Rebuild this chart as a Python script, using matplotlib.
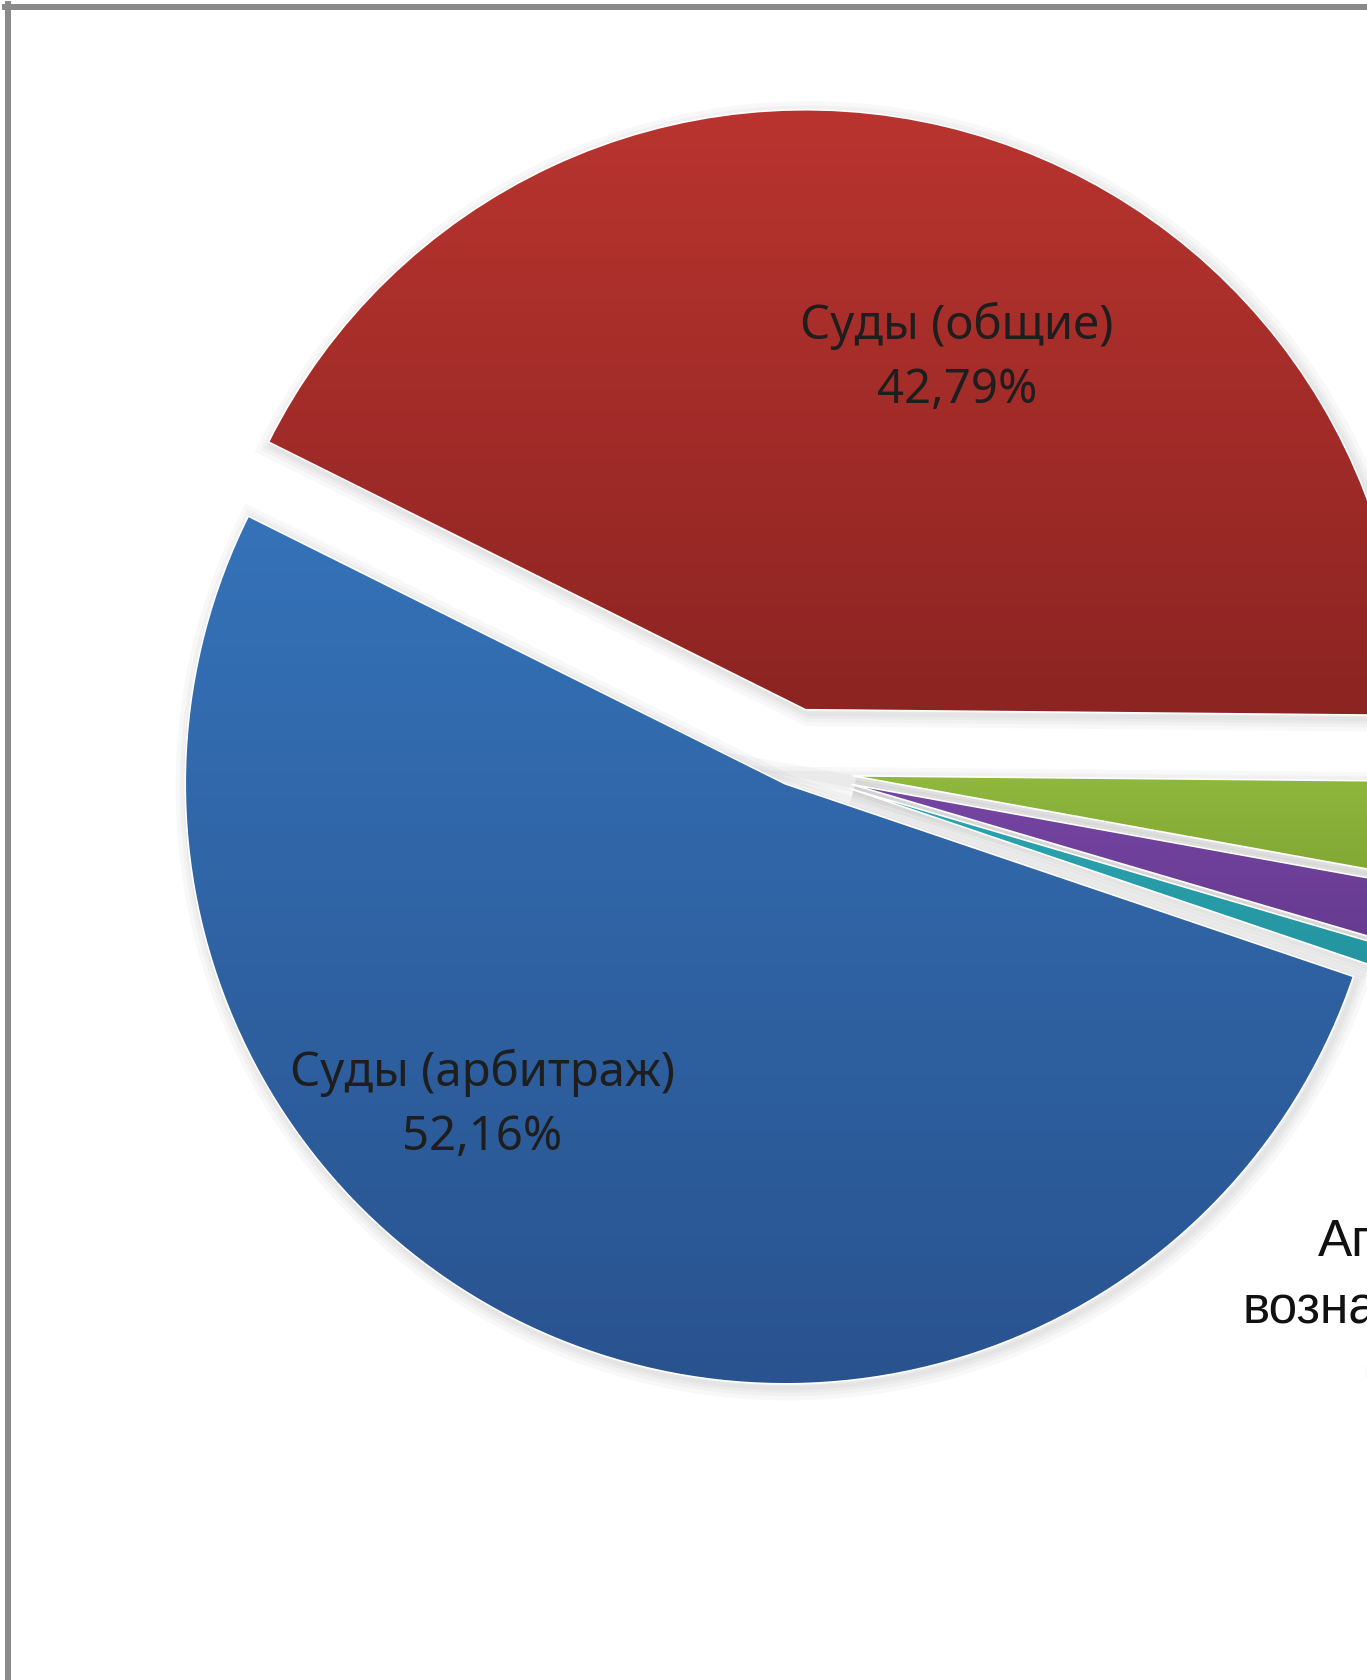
import numpy as np
import matplotlib.pyplot as plt
from matplotlib.colors import LinearSegmentedColormap
from matplotlib.lines import Line2D
from matplotlib.patches import Wedge

# Shares of the pie, clockwise starting from the red slice
labels = ['Суды (общие)', '', '', 'Агентское\nвознаграждение', 'Суды (арбитраж)']
shares = [42.79, 2.70, 1.70, 0.65, 52.16]
# gradient colours (top, bottom) for each slice
top_colors = ['#b9342f', '#8fb83e', '#7645a3', '#2ba6b2', '#3572b8']
bottom_colors = ['#8c2422', '#7fa632', '#653a8e', '#23939e', '#29538f']
explode = [62, 62, 62, 62, 15]

W, H = 1367, 1681
fig = plt.figure(figsize=(W / 100, H / 100), dpi=100)
ax = fig.add_axes([0, 0, 1, 1])

wedges, _ = ax.pie(shares, explode=explode, startangle=153.5, counterclock=False,
                   radius=600, center=(791, H - 771),
                   wedgeprops=dict(edgecolor='white', linewidth=1.2))

# soft shadow under the slices (a few faint, growing copies)
for w in wedges:
    cx, cy = w.center
    for lw in (18, 12, 7, 3):
        ax.add_patch(Wedge((cx + 3, cy - 4), w.r, w.theta1, w.theta2,
                           facecolor='none', edgecolor='#7a7a7a', linewidth=lw,
                           alpha=0.05, zorder=0.5))

# vertical gradient fill inside every wedge
grad = np.linspace(0, 1, 256).reshape(-1, 1)
for w, c_top, c_bot in zip(wedges, top_colors, bottom_colors):
    w.set_zorder(2)
    bb = w.get_path().get_extents()
    cmap = LinearSegmentedColormap.from_list('g', [c_bot, c_top])
    im = ax.imshow(grad, cmap=cmap, origin='lower', aspect='auto',
                   extent=[bb.x0, bb.x1, bb.y0, bb.y1], zorder=1.9)
    im.set_clip_path(w)
    w.set_facecolor('none')

ax.set_xlim(0, W)
ax.set_ylim(0, H)
ax.set_aspect('auto')
ax.axis('off')

def pct(v):
    return f'{v:.2f}'.replace('.', ',') + '%'

font_in = 'Noto Sans'
ax.text(957, H - 358, f'{labels[0]}\n{pct(shares[0])}', ha='center', va='center',
        fontsize=34, family=font_in, color='#1e1e1e', linespacing=1.45, zorder=5)
ax.text(482, H - 1105, f'{labels[4]}\n{pct(shares[4])}', ha='center', va='center',
        fontsize=34, family=font_in, color='#1e1e1e', linespacing=1.45, zorder=5)

# outside label of the small slice (cut by the right edge)
agent = labels[3].split('\n')
ax.text(1437, H - 1256, agent[0], ha='center', va='baseline',
        fontsize=37, family='Liberation Sans', color='#111111')
ax.text(1437, H - 1323, agent[1], ha='center', va='baseline',
        fontsize=37, family='Liberation Sans', color='#111111')
ax.text(1437, H - 1390, pct(shares[3]), ha='center', va='baseline',
        fontsize=37, family='Liberation Sans', color='#f7f7f7')

# chart frame (right and bottom edges are cut off)
fig.add_artist(Line2D([8 / W, 8 / W], [0, 1 - 5 / H], color='#8a8a8a', linewidth=4.3))
fig.add_artist(Line2D([5 / W, 1], [1 - 8 / H, 1 - 8 / H], color='#8a8a8a', linewidth=4.3))

fig.savefig('out.png', dpi=100)
